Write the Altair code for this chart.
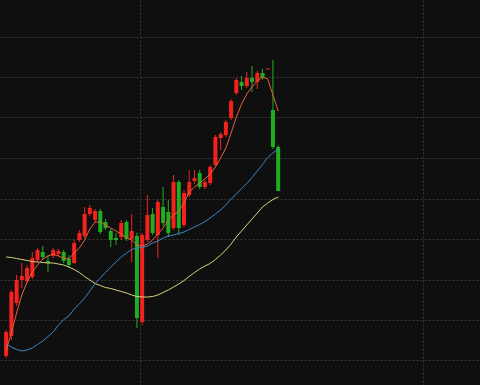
import altair as alt
import pandas as pd

# candle index (trading days)
idx = list(range(53))

open_ = [2.44, 2.64, 2.97, 3.20, 3.19, 3.23, 3.40, 3.48, 3.39, 3.44,
         3.46, 3.48, 3.41, 3.37, 3.60, 3.64, 3.86, 3.80, 3.89, 3.78,
         3.69, 3.62, 3.63, 3.78, 3.61, 3.64, 2.78, 3.60, 3.86, 3.65,
         3.93, 3.88, 3.72, 4.18, 3.75, 4.05, 4.19, 4.27, 4.13, 4.17,
         4.35, 4.62, 4.65, 4.82, 5.07, 5.18, 5.14, 5.22, 5.18, 5.27,
         5.305, 4.90, 4.53]
close = [2.68, 3.08, 3.20, 3.24, 3.32, 3.42, 3.50, 3.43, 3.37, 3.50,
         3.49, 3.39, 3.35, 3.57, 3.67, 3.86, 3.92, 3.89, 3.68, 3.72,
         3.60, 3.60, 3.77, 3.61, 3.69, 2.82, 3.65, 3.85, 3.67, 3.98,
         3.77, 3.67, 4.18, 3.72, 4.07, 4.18, 4.22, 4.13, 4.18, 4.33,
         4.63, 4.66, 4.78, 4.99, 5.20, 5.14, 5.22, 5.18, 5.27, 5.22,
         5.315, 4.53, 4.09]
high = [2.70, 3.10, 3.25, 3.37, 3.35, 3.48, 3.52, 3.54, 3.45, 3.52,
        3.51, 3.50, 3.45, 3.60, 3.70, 3.93, 3.95, 3.91, 3.91, 3.81,
        3.71, 3.67, 3.80, 3.80, 3.86, 3.67, 3.67, 4.05, 3.92, 4.00,
        4.13, 4.00, 4.25, 4.20, 4.10, 4.30, 4.30, 4.30, 4.20, 4.35,
        4.65, 4.68, 4.80, 5.01, 5.22, 5.24, 5.28, 5.34, 5.29, 5.31,
        5.315, 5.40, 4.55]
low = [2.42, 2.60, 2.94, 3.12, 3.17, 3.21, 3.38, 3.41, 3.28, 3.42,
       3.44, 3.37, 3.32, 3.36, 3.58, 3.62, 3.84, 3.78, 3.66, 3.70,
       3.53, 3.55, 3.60, 3.59, 3.38, 2.72, 2.75, 3.58, 3.65, 3.42,
       3.74, 3.63, 3.70, 3.65, 3.73, 4.03, 4.16, 4.11, 4.11, 4.15,
       4.33, 4.50, 4.63, 4.80, 5.05, 5.10, 5.12, 5.08, 5.11, 5.20,
       5.305, 4.51, 4.09]

ma5 = [2.50, 2.67, 2.87, 3.05, 3.18, 3.28, 3.35, 3.41, 3.44, 3.46,
       3.44, 3.42, 3.41, 3.47, 3.52, 3.60, 3.71, 3.78, 3.78, 3.75,
       3.72, 3.69, 3.66, 3.62, 3.60, 3.55, 3.54, 3.56, 3.60, 3.66,
       3.72, 3.80, 3.85, 3.89, 3.97, 4.08, 4.13, 4.17, 4.21, 4.26,
       4.33, 4.42, 4.52, 4.67, 4.83, 4.96, 5.06, 5.13, 5.19, 5.23,
       5.21, 5.05, 4.89]
ma20 = [2.56, 2.53, 2.505, 2.49, 2.50, 2.52, 2.555, 2.59, 2.635, 2.68,
        2.75, 2.805, 2.84, 2.91, 2.96, 3.02, 3.09, 3.165, 3.22, 3.275,
        3.33, 3.38, 3.43, 3.47, 3.505, 3.52, 3.525, 3.54, 3.57, 3.59,
        3.62, 3.64, 3.65, 3.665, 3.68, 3.705, 3.73, 3.755, 3.785, 3.82,
        3.86, 3.90, 3.95, 4.01, 4.06, 4.115, 4.165, 4.225, 4.29, 4.355,
        4.425, 4.47, 4.51]
ma60 = [3.43, 3.425, 3.415, 3.405, 3.395, 3.385, 3.38, 3.375, 3.37, 3.37,
        3.36, 3.35, 3.33, 3.305, 3.275, 3.235, 3.20, 3.165, 3.145, 3.125,
        3.115, 3.10, 3.085, 3.07, 3.05, 3.035, 3.03, 3.03, 3.035, 3.05,
        3.075, 3.10, 3.13, 3.16, 3.195, 3.235, 3.275, 3.31, 3.34, 3.365,
        3.405, 3.45, 3.50, 3.56, 3.63, 3.69, 3.75, 3.81, 3.87, 3.93,
        3.97, 4.005, 4.03]

grid_y = [2.395, 2.80, 3.205, 3.61, 4.015, 4.42, 4.825, 5.23, 5.635]
grid_x = [25.61, 79.70]

df = pd.DataFrame({"i": idx, "open": open_, "close": close,
                   "high": high, "low": low,
                   "ma5": ma5, "ma20": ma20, "ma60": ma60})
df["dir"] = ["up" if c >= o else "down" for o, c in zip(open_, close)]

BG = "#0f0f0f"
RED = "#f3221c"
GREEN = "#1fae22"
GRID = "#3a3a3a"

xs = alt.Scale(domain=[-0.2166, 89.62], nice=False, zero=False)
ys = alt.Scale(domain=[2.15, 6.0], nice=False, zero=False)

xa = alt.Axis(values=grid_x, labels=False, ticks=False, domain=False, title=None,
              grid=True, gridColor=GRID, gridDash=[2, 2], gridWidth=1)
ya = alt.Axis(values=grid_y, labels=False, ticks=False, domain=False, title=None,
              grid=True, gridColor=GRID, gridDash=[2, 2], gridWidth=1)

X = alt.X("i:Q", scale=xs, axis=xa)
col = alt.Color("dir:N", scale=alt.Scale(domain=["up", "down"], range=[RED, GREEN]), legend=None)

base = alt.Chart(df)

wicks = base.mark_rule(strokeWidth=1, clip=True).encode(
    x=X,
    y=alt.Y("low:Q", scale=ys, axis=ya),
    y2="high:Q",
    color=col,
)
bodies = base.mark_bar(size=4, clip=True).encode(
    x=X,
    y=alt.Y("open:Q", scale=ys, axis=ya),
    y2="close:Q",
    color=col,
)

def ma_line(field, colour):
    return base.mark_line(strokeWidth=1, clip=True, color=colour).encode(
        x=X,
        y=alt.Y(f"{field}:Q", scale=ys, axis=ya),
    )

chart = alt.layer(
    wicks, bodies,
    ma_line("ma60", "#d8d37a"),
    ma_line("ma20", "#3c86c8"),
    ma_line("ma5", "#e5603e"),
).properties(
    width=480, height=385, padding=0, autosize="none", background=BG,
).configure_view(stroke=None, fill=BG)

chart.save("out.html", embed_options={"renderer": "svg", "actions": False})
